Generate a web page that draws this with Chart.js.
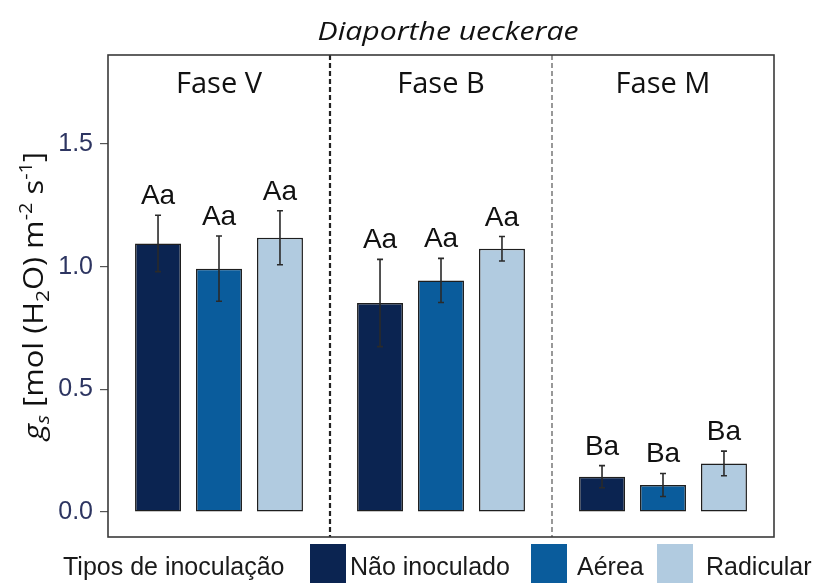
<!DOCTYPE html>
<html><head><meta charset="utf-8">
<script src="https://cdn.jsdelivr.net/npm/chart.js@4"></script>
<style>html,body{margin:0;padding:0;background:#fff}#wrap{width:815px;height:583px;position:relative}</style>
</head><body><div id="wrap"><canvas id="c" width="815" height="583"></canvas></div>
<script>
// ---- data ----
const phases = ['Fase V', 'Fase B', 'Fase M'];
const seriesNames = ['Não inoculado', 'Aérea', 'Radicular'];
const naoValues = [1.095, 0.852, 0.144];
const aereaValues = [0.992, 0.944, 0.110];
const radicularValues = [1.118, 1.073, 0.198];
const naoErrors = [0.115, 0.178, 0.045];
const aereaErrors = [0.133, 0.090, 0.047];
const radicularErrors = [0.110, 0.050, 0.050];
const naoLetters = ['Aa', 'Aa', 'Ba'];
const aereaLetters = ['Aa', 'Aa', 'Ba'];
const radicularLetters = ['Aa', 'Aa', 'Ba'];
const yTicks = [0, 0.5, 1.0, 1.5];
const chartTitle = 'Diaporthe ueckerae';
const legendTitle = 'Tipos de inoculação';

// ---- styles ----
const colors = ['#0b2451', '#0a5c9c', '#b1cbe0'];
const ARIAL = '"Liberation Sans", Arial, sans-serif';
const OPEN = '"Open Sans", "Noto Sans", sans-serif';
const errorsBySeries = [naoErrors, aereaErrors, radicularErrors];
const lettersBySeries = [naoLetters, aereaLetters, radicularLetters];

const datasets = [naoValues, aereaValues, radicularValues].map((vals, i) => ({
  label: seriesNames[i],
  data: vals,
  backgroundColor: colors[i],
  borderColor: '#1e1e1e',
  borderWidth: 1.5,
  borderSkipped: false,
  categoryPercentage: 0.824,
  barPercentage: 0.754
}));

const decor = {
  id: 'decor',
  afterDatasetsDraw(chart) {
    const ctx = chart.ctx;
    const a = chart.chartArea;
    const xs = chart.scales.x, ys = chart.scales.y;
    ctx.save();
    // error bars and letters
    chart.data.datasets.forEach((ds, di) => {
      const meta = chart.getDatasetMeta(di);
      meta.data.forEach((bar, j) => {
        const v = ds.data[j], e = errorsBySeries[di][j];
        const yt = ys.getPixelForValue(v + e), yb = ys.getPixelForValue(v - e);
        const x = bar.x;
        ctx.strokeStyle = '#2a2a2a';
        ctx.lineWidth = 1.6;
        ctx.beginPath();
        ctx.moveTo(x, yt); ctx.lineTo(x, yb);
        ctx.moveTo(x - 3, yt); ctx.lineTo(x + 3, yt);
        ctx.moveTo(x - 3, yb); ctx.lineTo(x + 3, yb);
        ctx.stroke();
        ctx.fillStyle = '#111';
        ctx.font = '28px ' + ARIAL;
        ctx.textAlign = 'center';
        ctx.textBaseline = 'alphabetic';
        ctx.fillText(lettersBySeries[di][j], x, yt - 11);
      });
    });
    // dividers
    const d1 = (xs.getPixelForValue(0) + xs.getPixelForValue(1)) / 2;
    const d2 = (xs.getPixelForValue(1) + xs.getPixelForValue(2)) / 2;
    ctx.strokeStyle = '#222'; ctx.lineWidth = 2.2; ctx.setLineDash([5, 3]);
    ctx.beginPath(); ctx.moveTo(d1, a.top); ctx.lineTo(d1, a.bottom); ctx.stroke();
    ctx.strokeStyle = '#555'; ctx.lineWidth = 1.2; ctx.setLineDash([5, 3]);
    ctx.beginPath(); ctx.moveTo(d2, a.top); ctx.lineTo(d2, a.bottom); ctx.stroke();
    ctx.setLineDash([]);
    // panel border
    ctx.strokeStyle = '#3a3a3a'; ctx.lineWidth = 1.6;
    ctx.strokeRect(a.left, a.top, a.right - a.left, a.bottom - a.top);
    // phase labels
    ctx.fillStyle = '#111';
    ctx.font = '29px ' + OPEN;
    ctx.textAlign = 'center';
    phases.forEach((p, i) => ctx.fillText(p, xs.getPixelForValue(i), 93));
    // title (stretched to reference width)
    ctx.font = 'italic 25px ' + OPEN;
    const tw = ctx.measureText(chartTitle).width;
    ctx.save();
    ctx.translate(448, 40);
    ctx.scale(261 / tw, 1);
    ctx.fillText(chartTitle, 0, 0);
    ctx.restore();
    // y label (rich text, rotated)
    const segs = [
      {t: 'g', f: 'italic 28px ' + OPEN, dy: 0},
      {t: 's', f: 'italic 19px ' + OPEN, dy: 6},
      {t: ' [mol (H', f: '28px ' + OPEN, dy: 0},
      {t: '2', f: '19px ' + OPEN, dy: 6},
      {t: 'O) m', f: '28px ' + OPEN, dy: 0},
      {t: '-2', f: '18px ' + OPEN, dy: -11},
      {t: ' s', f: '28px ' + OPEN, dy: 0},
      {t: '-1', f: '18px ' + OPEN, dy: -11},
      {t: ']', f: '28px ' + OPEN, dy: 0}
    ];
    let total = 0;
    segs.forEach(s => { ctx.font = s.f; s.w = ctx.measureText(s.t).width; total += s.w; });
    ctx.save();
    ctx.translate(43, 296);
    ctx.rotate(-Math.PI / 2);
    ctx.scale(288 / total, 1);
    ctx.textAlign = 'left';
    let cx = -total / 2;
    segs.forEach(s => { ctx.font = s.f; ctx.fillText(s.t, cx, s.dy); cx += s.w; });
    ctx.restore();
    // legend
    ctx.font = '25px ' + ARIAL;
    ctx.textAlign = 'left';
    ctx.fillStyle = '#1a1a1a';
    ctx.fillText(legendTitle, 63, 575);
    const sqX = [310, 531, 657], txX = [350, 577, 706];
    seriesNames.forEach((n, i) => {
      ctx.fillStyle = colors[i];
      ctx.fillRect(sqX[i], 544, 36, 40);
      ctx.fillStyle = '#1a1a1a';
      ctx.fillText(n, txX[i], 575);
    });
    ctx.restore();
  }
};

new Chart(document.getElementById('c'), {
  type: 'bar',
  data: { labels: phases, datasets },
  options: {
    responsive: false,
    animation: false,
    devicePixelRatio: 1,
    layout: { padding: { left: 0, right: 41, top: 55, bottom: 46 } },
    plugins: { legend: { display: false }, tooltip: { enabled: false }, title: { display: false } },
    scales: {
      x: { display: false },
      y: {
        min: -0.102, max: 1.863,
        afterBuildTicks(scale) { scale.ticks = yTicks.map(v => ({ value: v })); },
        afterFit(scale) { scale.width = 108; },
        border: { display: false },
        grid: { drawOnChartArea: false, drawTicks: true, tickLength: 8, tickColor: '#555', lineWidth: 1.2 },
        ticks: {
          padding: 7,
          color: '#2d3561',
          font: { family: ARIAL, size: 25 },
          callback: v => Number(v).toFixed(1)
        }
      }
    }
  },
  plugins: [decor]
});
</script>
</body></html>
